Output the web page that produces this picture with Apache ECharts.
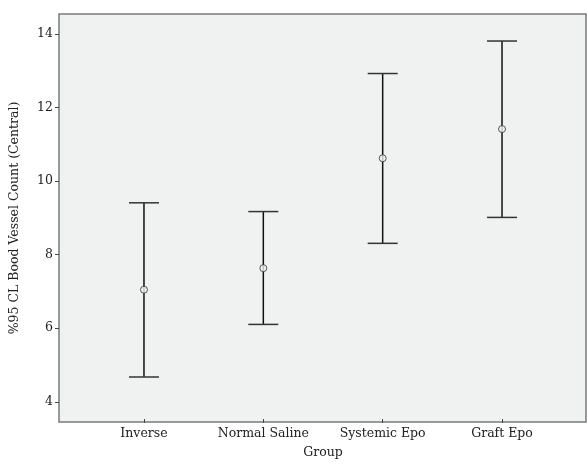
<!DOCTYPE html>
<html><head><meta charset="utf-8">
<script src="https://cdn.jsdelivr.net/npm/echarts@6/dist/echarts.min.js"></script>
<style>html,body{margin:0;padding:0;background:#fff}#c{width:587px;height:464px}</style>
</head><body><div id="c"></div>
<script>
const categories = ['Inverse', 'Normal Saline', 'Systemic Epo', 'Graft Epo'];
const means = [6.99, 7.58, 10.59, 11.39];
const lowers = [4.60, 6.04, 8.26, 8.97];
const uppers = [9.37, 9.13, 12.91, 13.80];
const yTicks = [4, 6, 8, 10, 12, 14];
const yMin = 3.45, yMax = 14.54;

const font = 'DejaVu Serif';
const chart = echarts.init(document.getElementById('c'), null, {renderer: 'canvas'});
const errData = categories.map((c, i) => [i, lowers[i], uppers[i]]);
chart.setOption({
  animation: false,
  grid: [
    {left: 58, right: 1, top: 14, bottom: 42, show: true, backgroundColor: '#f0f1f1', borderColor: '#7a7a7a', borderWidth: 1.5},
    {left: 84.3, right: 25.3, top: 14, bottom: 42}
  ],
  xAxis: [
    {type: 'value', gridIndex: 0, show: false, min: 0, max: 1},
    {type: 'category', gridIndex: 1, data: categories,
     axisLine: {show: false},
     axisTick: {show: true, alignWithLabel: true, length: 4, lineStyle: {color: '#444', width: 1}},
     axisLabel: {color: '#222', fontFamily: font, fontSize: 12.5, margin: 8},
     name: 'Group', nameLocation: 'middle', nameGap: 27,
     nameTextStyle: {color: '#222', fontFamily: font, fontSize: 12.5}}
  ],
  yAxis: [
    {type: 'value', gridIndex: 0, min: yMin, max: yMax,
     axisLine: {show: false}, splitLine: {show: false},
     axisTick: {show: true, length: 4, customValues: yTicks, lineStyle: {color: '#444'}},
     axisLabel: {customValues: yTicks, color: '#222', fontFamily: font, fontSize: 12.5, margin: 6},
     name: '%95 CL Bood Vessel Count (Central)', nameLocation: 'middle', nameGap: 38, nameRotate: 90,
     nameTextStyle: {color: '#222', fontFamily: font, fontSize: 12.5}},
    {type: 'value', gridIndex: 1, min: yMin, max: yMax, show: false}
  ],
  series: [
    {type: 'custom', xAxisIndex: 1, yAxisIndex: 1, data: errData,
     renderItem: function (params, api) {
       const x = api.value(0);
       const lo = api.coord([x, api.value(1)]);
       const hi = api.coord([x, api.value(2)]);
       const hw = 15;
       const st = {stroke: '#111', lineWidth: 1.5};
       return {type: 'group', children: [
         {type: 'line', shape: {x1: lo[0], y1: lo[1], x2: hi[0], y2: hi[1]}, style: st},
         {type: 'line', shape: {x1: lo[0] - hw, y1: lo[1], x2: lo[0] + hw, y2: lo[1]}, style: {stroke: '#333', lineWidth: 1.5}},
         {type: 'line', shape: {x1: hi[0] - hw, y1: hi[1], x2: hi[0] + hw, y2: hi[1]}, style: {stroke: '#333', lineWidth: 1.5}}
       ]};
     }, z: 2},
    {type: 'scatter', xAxisIndex: 1, yAxisIndex: 1, data: means, symbol: 'circle', symbolSize: 7,
     itemStyle: {color: '#f0f1f1', borderColor: '#333', borderWidth: 1}, z: 3}
  ]
});
</script></body></html>
